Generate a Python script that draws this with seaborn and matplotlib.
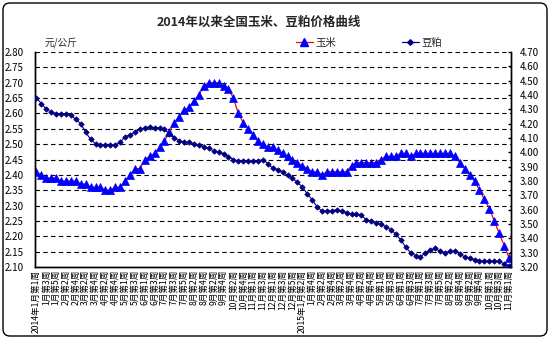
import matplotlib
matplotlib.use("Agg")
import matplotlib.pyplot as plt
import matplotlib.transforms as mtransforms
from matplotlib.patches import FancyBboxPatch
from matplotlib.lines import Line2D
from matplotlib.ticker import FixedLocator, MultipleLocator, FormatStrFormatter
import numpy as np
import pandas as pd
import seaborn as sns

# ---- data -------------------------------------------------------------
# tick labels for every second week
week_labels = [
    "2014年1月第1周", "1月第3周", "1月第5周", "2月第2周", "2月第4周", "3月第2周",
    "3月第4周", "4月第2周", "4月第4周", "5月第1周", "5月第3周", "6月第1周",
    "6月第3周", "7月第1周", "7月第3周", "7月第5周", "8月第2周", "8月第4周",
    "9月第2周", "9月第4周", "10月第2周", "10月第4周", "11月第1周", "11月第3周",
    "12月第1周", "12月第3周", "12月第5周", "2015年1月第2周", "1月第4周", "2月第2周",
    "2月第4周", "3月第2周", "3月第4周", "4月第2周", "4月第4周", "5月第1周",
    "5月第3周", "6月第1周", "6月第3周", "7月第1周", "7月第3周", "7月第5周",
    "8月第2周", "8月第4周", "9月第2周", "9月第4周", "10月第1周", "10月第3周",
    "11月第1周",
]

# weekly corn price, yuan/kg (left axis)
corn = [
    2.41, 2.40, 2.39, 2.39, 2.39, 2.38, 2.38, 2.38, 2.38, 2.37,
    2.37, 2.36, 2.36, 2.36, 2.35, 2.35, 2.36, 2.36, 2.38, 2.40,
    2.42, 2.42, 2.45, 2.46, 2.47, 2.49, 2.51, 2.54, 2.57, 2.59,
    2.61, 2.62, 2.64, 2.66, 2.69, 2.70, 2.70, 2.70, 2.69, 2.68,
    2.65, 2.60, 2.57, 2.55, 2.53, 2.51, 2.50, 2.49, 2.49, 2.48,
    2.47, 2.46, 2.45, 2.44, 2.43, 2.42, 2.41, 2.41, 2.40, 2.41,
    2.41, 2.41, 2.41, 2.41, 2.43, 2.44, 2.44, 2.44, 2.44, 2.44,
    2.45, 2.46, 2.46, 2.46, 2.47, 2.47, 2.46, 2.47, 2.47, 2.47,
    2.47, 2.47, 2.47, 2.47, 2.47, 2.46, 2.44, 2.42, 2.40, 2.38,
    2.35, 2.32, 2.29, 2.25, 2.21, 2.17, 2.13,
]

# weekly soybean meal price, yuan/kg (right axis)
meal = [
    4.38, 4.34, 4.30, 4.28, 4.27, 4.27, 4.27, 4.26, 4.23, 4.20,
    4.14, 4.09, 4.06, 4.05, 4.05, 4.05, 4.05, 4.07, 4.11, 4.12,
    4.14, 4.16, 4.17, 4.18, 4.17, 4.17, 4.16, 4.13, 4.10, 4.08,
    4.07, 4.07, 4.06, 4.05, 4.04, 4.03, 4.01, 4.00, 3.99, 3.97,
    3.95, 3.94, 3.94, 3.94, 3.94, 3.94, 3.95, 3.92, 3.89, 3.88,
    3.86, 3.84, 3.82, 3.79, 3.76, 3.71, 3.67, 3.62, 3.59, 3.59,
    3.59, 3.60, 3.59, 3.58, 3.57, 3.57, 3.56, 3.53, 3.52, 3.51,
    3.50, 3.48, 3.46, 3.43, 3.39, 3.34, 3.30, 3.28, 3.27, 3.30,
    3.32, 3.33, 3.31, 3.30, 3.31, 3.31, 3.29, 3.27, 3.26, 3.25,
    3.24, 3.24, 3.24, 3.24, 3.24, 3.22, 3.21,
]

df = pd.DataFrame({"week": np.arange(len(corn)), "corn": corn, "meal": meal})

# ---- style ------------------------------------------------------------
sns.set_style("white")
plt.rcParams["font.family"] = ["Noto Sans CJK SC", "DejaVu Sans"]
plt.rcParams["axes.unicode_minus"] = False

fig = plt.figure(figsize=(5.53, 3.42), dpi=100)
fig.patch.set_facecolor("white")
ax = fig.add_axes([35 / 553, 1 - 267 / 342, (511 - 35) / 553, (267 - 52) / 342])
ax2 = ax.twinx()

# corn: red line, blue triangles
sns.lineplot(data=df, x="week", y="corn", ax=ax, color="#FF0000", linewidth=0.9,
             marker="^", markersize=5.5, markerfacecolor="#0000FF",
             markeredgecolor="#0000FF", markeredgewidth=0.5, zorder=3)
# soybean meal: navy line, small diamonds
sns.lineplot(data=df, x="week", y="meal", ax=ax2, color="#000080", linewidth=0.8,
             marker="D", markersize=2.8, markerfacecolor="#000080",
             markeredgecolor="#000080", markeredgewidth=0.5, zorder=3)

# ---- axes ---------------------------------------------------------------
ax.set_xlim(-0.3, 96.4)
ax.set_ylim(2.10, 2.80)
ax2.set_ylim(3.20, 4.70)

ax.yaxis.set_major_locator(MultipleLocator(0.05))
ax.yaxis.set_major_formatter(FormatStrFormatter("%.2f"))
ax2.yaxis.set_major_locator(MultipleLocator(0.10))
ax2.yaxis.set_major_formatter(FormatStrFormatter("%.2f"))

ax.xaxis.set_major_locator(FixedLocator(np.arange(0, len(corn), 2)))
ax.xaxis.set_minor_locator(FixedLocator(np.arange(0, len(corn), 1)))
ax.set_xticklabels(week_labels, rotation=90, fontsize=6.2)

ax.set_xlabel("")
ax.set_ylabel("")
ax2.set_ylabel("")

ax.tick_params(axis="y", which="both", length=0, pad=8, labelsize=7, colors="black")
ax2.tick_params(axis="y", which="both", direction="in", length=2.5, width=1,
                pad=6, labelsize=7, colors="black")
ax.tick_params(axis="x", which="major", direction="in", length=3, width=0.8,
               pad=2, colors="black")
ax.tick_params(axis="x", which="minor", direction="in", length=3, width=0.8,
               colors="black")

ax.grid(axis="y", color="black", linestyle=(0, (4, 3)), linewidth=0.8)
ax.grid(axis="x", visible=False)
ax2.grid(False)
ax.set_axisbelow(True)

for a in (ax, ax2):
    a.spines["top"].set_visible(False)
    for s in ("left", "right", "bottom"):
        a.spines[s].set_color("black")
        a.spines[s].set_linewidth(1.0)
    a.patch.set_alpha(0)

# ---- text ---------------------------------------------------------------
fig.text(259 / 553, 1 - 22 / 342, "2014年以来全国玉米、豆粕价格曲线",
         ha="center", va="center", fontsize=9, fontweight="bold")
fig.text(45 / 553, 1 - 43 / 342, "元/公斤", ha="left", va="center",
         fontsize=7, style="italic")

corn_handle = Line2D([], [], color="#FF0000", linewidth=0.9, marker="^",
                     markersize=5.5, markerfacecolor="#0000FF",
                     markeredgecolor="#0000FF")
meal_handle = Line2D([], [], color="#000080", linewidth=0.9, marker="D",
                     markersize=2.8, markerfacecolor="#000080",
                     markeredgecolor="#000080")
for handle, name, xpos in ((corn_handle, "玉米", 296), (meal_handle, "豆粕", 402)):
    fig.legend(handles=[handle], labels=[name], loc="center left",
               bbox_to_anchor=(xpos / 553, 1 - 43 / 342), frameon=False,
               fontsize=7.5, handlelength=1.6, handletextpad=0.3,
               borderpad=0, borderaxespad=0)

# rounded frame around the whole chart
frame = FancyBboxPatch((3, 6), 544, 333, boxstyle="round,pad=0,rounding_size=7",
                       transform=mtransforms.IdentityTransform(),
                       facecolor="none", edgecolor="black", linewidth=1.0)
fig.patches.append(frame)

fig.savefig("out.png", dpi=100, facecolor="white")
